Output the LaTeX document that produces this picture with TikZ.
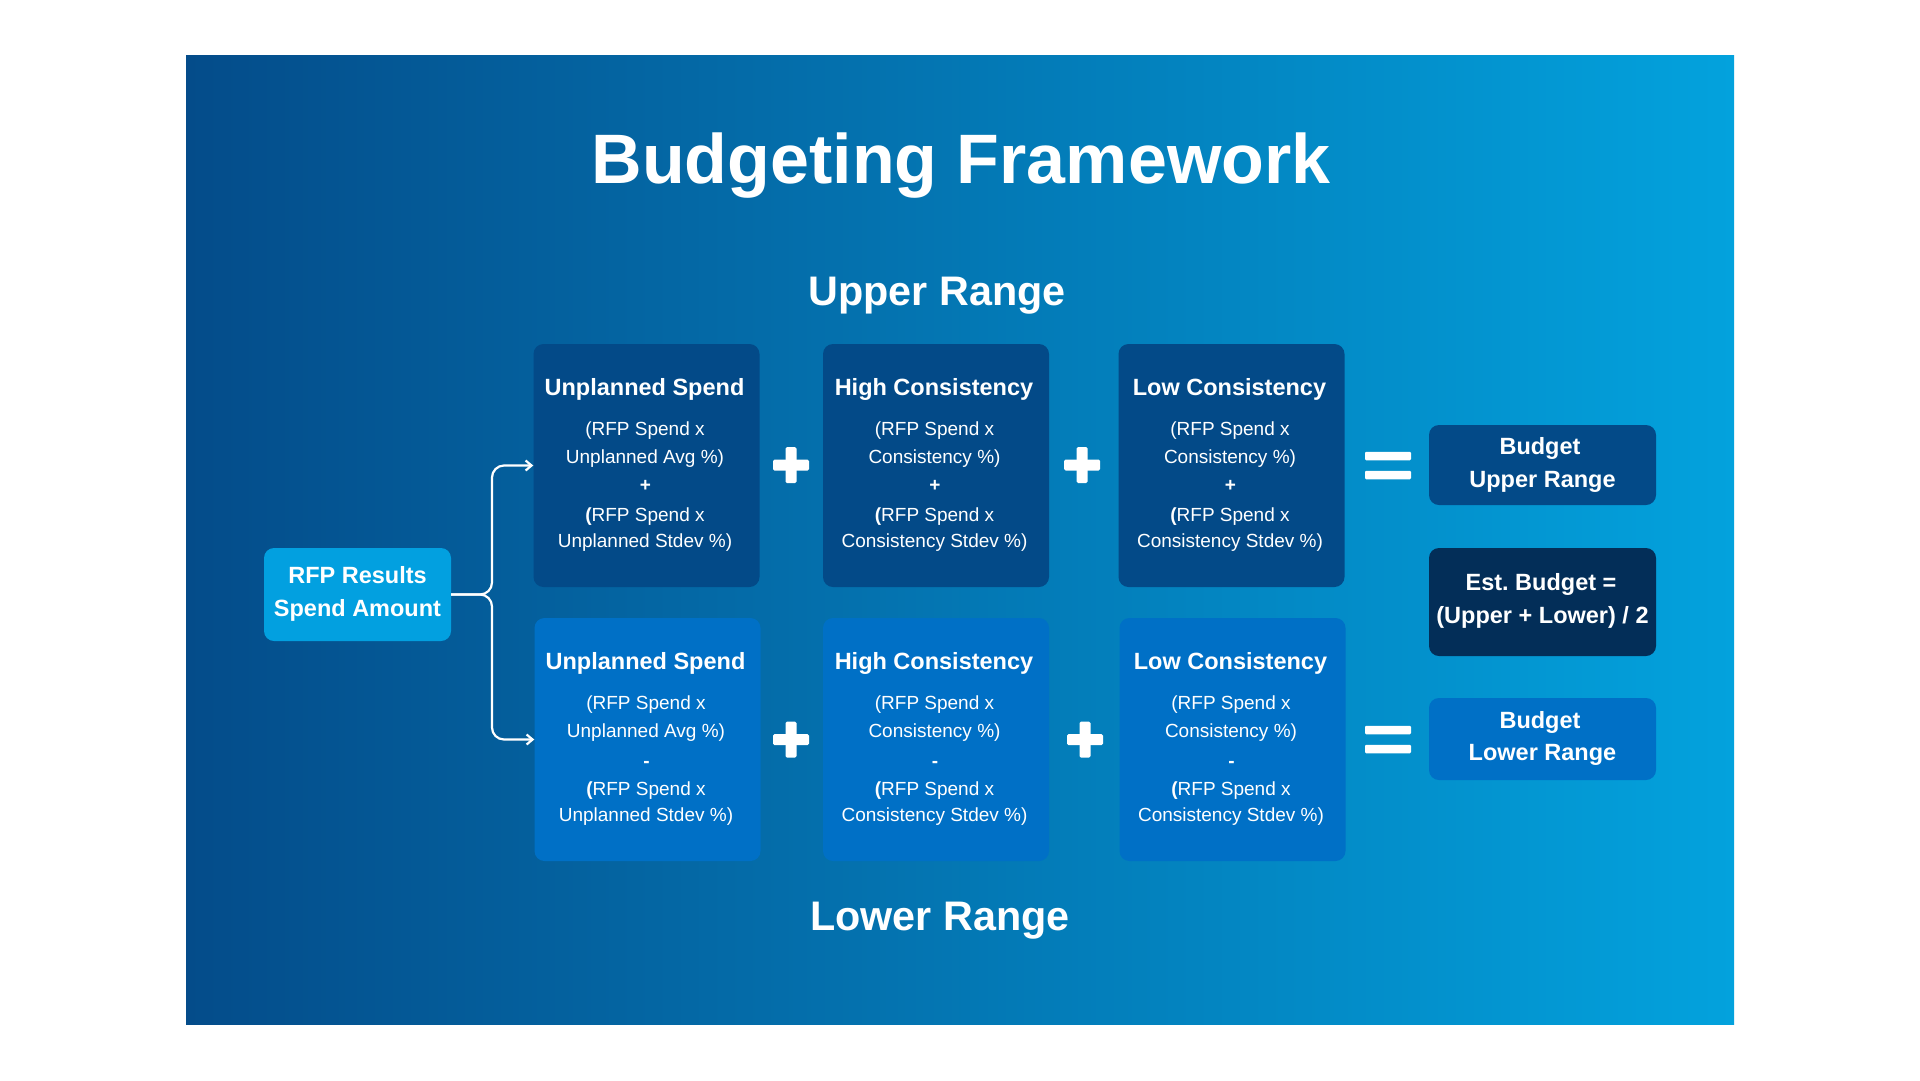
\documentclass[tikz,border=0pt]{standalone}
\usepackage{fontspec}
\setmainfont{Liberation Sans}
\frenchspacing
\usetikzlibrary{arrows.meta,calc}
\definecolor{bgL}{HTML}{044C8A}
\definecolor{bgR}{HTML}{03A2DD}
\definecolor{upBox}{HTML}{034A88}
\definecolor{loBox}{HTML}{0070C6}
\definecolor{estBox}{HTML}{032E58}
\definecolor{rfpBox}{HTML}{02A0E0}

\tikzset{
  box/.style={rectangle, rounded corners=10pt, inner sep=0pt, draw=none},
  calcbox/.style={box, minimum width=226pt, minimum height=243pt},
  upfill/.style={fill=upBox},
  lofill/.style={fill=loBox},
  ttl/.style={anchor=base, inner sep=0pt, text=white, font=\fontsize{23.5}{28}\selectfont\bfseries},
  bdy/.style={anchor=base, inner sep=0pt, text=white, font=\fontsize{19}{23}\selectfont},
  bdyop/.style={bdy, font=\fontsize{19}{23}\selectfont\bfseries},
  heading/.style={anchor=base, inner sep=0pt, text=white, font=\fontsize{41.3}{48}\selectfont\bfseries},
  conn/.style={draw=white, line width=2.2pt, rounded corners=12pt, -{Straight Barb[length=6pt,width=10pt]}},
  plussign/.style={minimum size=38pt, inner sep=0pt, draw=none,
    path picture={
      \fill[white,rounded corners=1.5pt] ([xshift=-18pt,yshift=-5.5pt]path picture bounding box.center) rectangle ([xshift=18pt,yshift=5.5pt]path picture bounding box.center);
      \fill[white,rounded corners=1.5pt] ([xshift=-5.5pt,yshift=-18pt]path picture bounding box.center) rectangle ([xshift=5.5pt,yshift=18pt]path picture bounding box.center);
    }},
  eqsign/.style={minimum width=48pt, minimum height=30pt, inner sep=0pt, draw=none,
    path picture={
      \fill[white,rounded corners=1.2pt] ([xshift=-23pt,yshift=5.25pt]path picture bounding box.center) rectangle ([xshift=23pt,yshift=13.75pt]path picture bounding box.center);
      \fill[white,rounded corners=1.2pt] ([xshift=-23pt,yshift=-13.75pt]path picture bounding box.center) rectangle ([xshift=23pt,yshift=-5.25pt]path picture bounding box.center);
    }},
}

% #1 name, #2 centre x, #3 top y, #4 fill style, #5 title, #6 line 2, #7 operator, #8 line 4, #9 operator baseline offset
\newcommand\formulabox[9]{%
  \node[calcbox,#4] (#1) at (#2,#3+121.5) {};
  \node[ttl] (#1-t) at (#2-2,#3+51) {#5};
  \node[bdy] (#1-a) at (#2-1.5,#3+91) {(RFP Spend x};
  \node[bdy] (#1-b) at (#2-1.5,#3+119) {#6};
  \node[bdyop] (#1-o) at (#2-1,#3+#9) {#7};
  \node[bdy] (#1-c) at (#2-1.5,#3+177) {\textbf{(}RFP Spend x};
  \node[bdy] (#1-d) at (#2-1.5,#3+203) {#8};
}

\begin{document}
\begin{tikzpicture}[x=1pt,y=-1pt]
\useasboundingbox (0,0) rectangle (1920,1080);
\fill[white] (0,0) rectangle (1920,1080);
\shade[left color=bgL, right color=bgR] (186,55) rectangle (1734,1024);

% titles
\node[anchor=base, inner sep=0pt, text=white, font=\fontsize{70}{80}\selectfont\bfseries] (title) at (961,183) {Budgeting Framework};
\node[heading] (uprange) at (937,305) {Upper Range};
\node[heading] (lorange) at (940,930) {Lower Range};

% upper row
\formulabox{u1}{646.5}{344}{upfill}{Unplanned Spend}{Unplanned Avg \%)}{+}{Unplanned Stdev \%)}{147}
\formulabox{u2}{936}{344}{upfill}{High Consistency}{Consistency \%)}{+}{Consistency Stdev \%)}{147}
\formulabox{u3}{1231.5}{344}{upfill}{Low Consistency}{Consistency \%)}{+}{Consistency Stdev \%)}{147}

% lower row
\formulabox{l1}{647.5}{618}{lofill}{Unplanned Spend}{Unplanned Avg \%)}{-}{Unplanned Stdev \%)}{149}
\formulabox{l2}{936}{618}{lofill}{High Consistency}{Consistency \%)}{-}{Consistency Stdev \%)}{149}
\formulabox{l3}{1232.5}{618}{lofill}{Low Consistency}{Consistency \%)}{-}{Consistency Stdev \%)}{149}

% operators
\node[plussign] (p1) at (791,465) {};
\node[plussign] (p2) at (1082,465) {};
\node[plussign] (p3) at (791,739.5) {};
\node[plussign] (p4) at (1085,739.5) {};
\node[eqsign] (e1) at (1388,465.5) {};
\node[eqsign] (e2) at (1388,739.5) {};

% result boxes
\node[box, fill=upBox, minimum width=227pt, minimum height=80pt] (bu) at (1542.5,465) {};
\node[ttl] (bu-1) at (1540,454) {Budget};
\node[ttl] (bu-2) at (1542.5,487) {Upper Range};

\node[box, fill=estBox, minimum width=227pt, minimum height=108pt] (est) at (1542.5,602) {};
\node[ttl] (est-1) at (1541,590) {Est. Budget =};
\node[ttl] (est-2) at (1542.5,623) {(Upper + Lower) / 2};

\node[box, fill=loBox, minimum width=227pt, minimum height=82pt] (bl) at (1542.5,739) {};
\node[ttl] (bl-1) at (1540,728) {Budget};
\node[ttl] (bl-2) at (1542.5,760) {Lower Range};

% input box
\node[box, fill=rfpBox, minimum width=187pt, minimum height=93pt] (rfp) at (357.5,594.5) {};
\node[ttl] (rfp-1) at (357.5,583) {RFP Results};
\node[ttl] (rfp-2) at (357.5,616) {Spend Amount};

% connectors
\coordinate (jx) at (492,594.5);
\draw[conn] (rfp.east) -- (jx) |- (u1.west);
\draw[conn] (rfp.east) -- (jx) |- (l1.west);
\end{tikzpicture}
\end{document}
